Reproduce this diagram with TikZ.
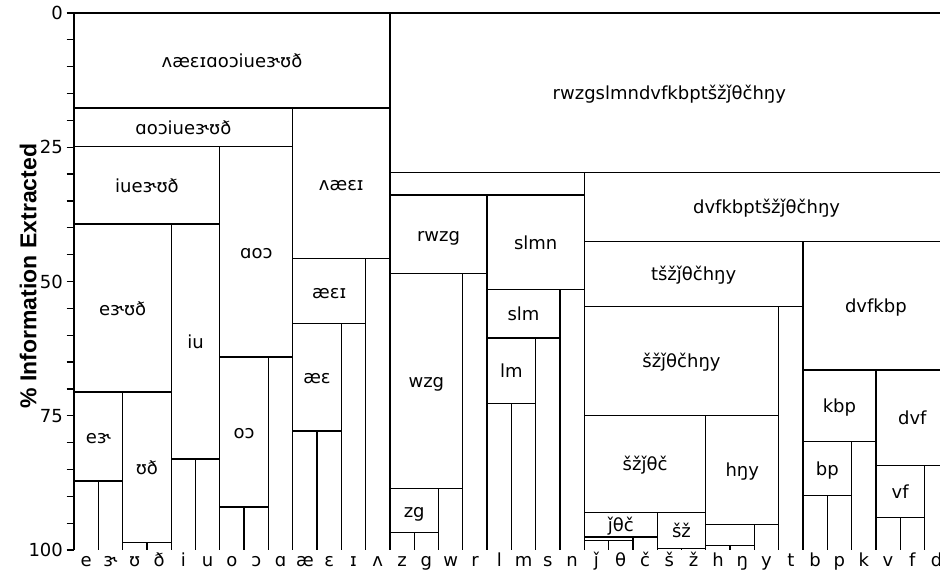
\documentclass[tikz,border=0pt]{standalone}
\usepackage{fontspec}
\setmainfont{DejaVu Sans}
\newfontfamily\axisfont{Liberation Sans}
\begin{document}
\begin{tikzpicture}[x=12.15pt,y=-2.685pt,line width=0.65pt,
    lbl/.style={font=\fontsize{9}{10.8}\selectfont,inner sep=0pt,text height=1.6ex,text depth=0.35ex},
    leafname/.style={font=\fontsize{9}{10.8}\selectfont,inner sep=0pt,anchor=base},
    ticknum/.style={font=\fontsize{9}{10.8}\selectfont,inner sep=0pt,anchor=east}]
  \useasboundingbox (-3.045,-2.421) rectangle (35.638,104.28);
  % axis
  \draw (0,0) -- (0,100);
  \foreach \t in {0,5,...,100} \draw (-0.3,\t) -- (0,\t);
  \foreach \t in {0,25,50,75,100} \node[ticknum] (tick\t) at (-0.43,\t) {\t};
  \node[rotate=90,inner sep=0pt,font=\axisfont\bfseries\fontsize{11.5}{13}\selectfont] (ytitle) at (-1.89,49) {\% Information Extracted};
  % vowels
  \draw (0,0) rectangle (13,17.7);
  \node[lbl] (vAll) at (6.5,8.85) {ʌæɛɪɑoɔiueɝʊð};
  \draw (0,17.7) rectangle (9,24.9);
  \node[lbl] (vBack) at (4.5,21.3) {ɑoɔiueɝʊð};
  \draw (9,17.7) rectangle (13,45.75);
  \node[lbl] (vFront) at (11,31.7) {ʌæɛɪ};
  \draw (0,24.9) rectangle (6,39.3);
  \node[lbl] (vIU) at (3,32.1) {iueɝʊð};
  \draw (6,24.9) rectangle (9,64.06);
  \node[lbl] (vAO) at (7.5,44.5) {ɑoɔ};
  \draw (0,39.3) rectangle (4,70.6);
  \node[lbl] (vEU) at (2,55) {eɝʊð};
  \draw (4,39.3) rectangle (6,83.05);
  \node[lbl] (viu) at (5,61.2) {iu};
  \draw (0,70.6) rectangle (2,87.15);
  \node[lbl] (veer) at (1,78.9) {eɝ};
  \draw (2,70.6) rectangle (4,98.6);
  \node[lbl] (vuth) at (3,84.6) {ʊð};
  \draw (6,64.06) rectangle (8,92.0);
  \node[lbl] (voo) at (7,78) {oɔ};
  \draw (9,45.75) rectangle (12,57.8);
  \node[lbl] (vaei) at (10.5,51.8) {æɛɪ};
  \draw (9,57.8) rectangle (11,77.85);
  \node[lbl] (vae) at (10,67.8) {æɛ};
  % consonants
  \draw (13,0) rectangle (36,29.7);
  \node[lbl] (cAll) at (24.5,14.85) {rwzgslmndvfkbptšžǰθčhŋy};
  \draw (13,29.7) rectangle (21,33.9);
  \draw (21,29.7) rectangle (36,42.5);
  \node[lbl] (cStop) at (28.5,36.1) {dvfkbptšžǰθčhŋy};
  \draw (13,33.9) rectangle (17,48.5);
  \node[lbl] (crwzg) at (15,41.2) {rwzg};
  \draw (17,33.9) rectangle (21,51.5);
  \node[lbl] (cslmn) at (19,42.7) {slmn};
  \draw (13,48.5) rectangle (16,88.6);
  \node[lbl] (cwzg) at (14.5,68.5) {wzg};
  \draw (13,88.6) rectangle (15,96.8);
  \node[lbl] (czg) at (14,92.7) {zg};
  \draw (17,51.5) rectangle (20,60.5);
  \node[lbl] (cslm) at (18.5,56) {slm};
  \draw (17,60.5) rectangle (19,72.75);
  \node[lbl] (clm) at (18,66.6) {lm};
  \draw (21,42.5) rectangle (30,54.7);
  \node[lbl] (cTsh) at (25.5,48.6) {tšžǰθčhŋy};
  \draw (30,42.5) rectangle (36,66.5);
  \node[lbl] (cLab) at (33,54.5) {dvfkbp};
  \draw (21,54.7) rectangle (29,74.9);
  \node[lbl] (cSh) at (25,64.8) {šžǰθčhŋy};
  \draw (21,74.9) rectangle (26,93.05);
  \node[lbl] (cSib) at (23.5,84) {šžǰθč};
  \draw (26,74.9) rectangle (29,95.3);
  \node[lbl] (chny) at (27.5,85.1) {hŋy};
  \draw (26,95.3) rectangle (28,99.2);
  \draw (21,93.05) rectangle (24,97.6);
  \node[lbl] (cjth) at (22.5,95.3) {ǰθč};
  \draw (24,93.05) rectangle (26,99.7);
  \node[lbl] (cshzh) at (25,96.4) {šž};
  \draw (21,97.6) rectangle (23,98.2);
  \draw (30,66.5) rectangle (33,79.8);
  \node[lbl] (ckbp) at (31.5,73.15) {kbp};
  \draw (33,66.5) rectangle (36,84.3);
  \node[lbl] (cdvf) at (34.5,75.4) {dvf};
  \draw (30,79.8) rectangle (32,89.9);
  \node[lbl] (cbp) at (31,84.85) {bp};
  \draw (33,84.3) rectangle (35,93.9);
  \node[lbl] (cvf) at (34,89.1) {vf};
  % leaves
  \foreach \k/\s in {0/0,1/87.15,2/70.6,3/98.6,4/39.3,5/83.05,6/24.9,7/92.0,8/64.06,
      9/17.7,10/77.85,11/57.8,12/45.75,13/0,14/96.8,15/88.6,16/48.5,17/33.9,18/72.75,
      19/60.5,20/51.5,21/29.7,22/98.2,23/97.6,24/93.05,25/99.7,26/74.9,27/99.2,28/95.3,
      29/54.7,30/42.5,31/89.9,32/79.8,33/66.5,34/93.9,35/84.3,36/0}
    \draw (\k,\s) -- (\k,100);
  \foreach \c [count=\i from 0] in {e,ɝ,ʊ,ð,i,u,o,ɔ,ɑ,æ,ɛ,ɪ,ʌ,z,g,w,r,l,m,s,n,ǰ,θ,č,š,ž,h,ŋ,y,t,b,p,k,v,f,d}
    \node[leafname] (leaf\i) at (\i+0.5,103) {\c};
\end{tikzpicture}
\end{document}
